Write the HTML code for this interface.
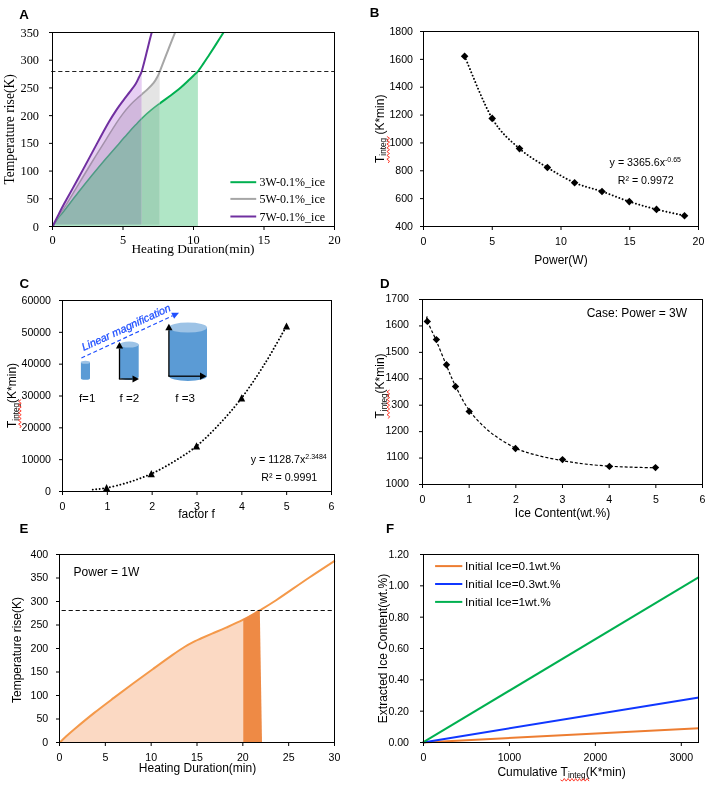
<!DOCTYPE html>
<html lang="en">
<head>
<meta charset="utf-8">
<title>Figure</title>
<style>
html,body{margin:0;padding:0;background:#fff;}
body{width:714px;height:786px;overflow:hidden;}
svg{display:block;}

</style>
</head>
<body>
<svg width="714" height="786" viewBox="0 0 714 786">
<rect x="0" y="0" width="714" height="786" fill="#fff"/>
<text x="19.20" y="19.00" text-anchor="start" font-family='"Liberation Sans", Arial, sans-serif' font-size="13.3" font-weight="bold">A</text>
<defs>
<clipPath id="cA1"><rect x="0" y="0" width="141.7" height="300"/></clipPath>
<clipPath id="cA2"><rect x="141.7" y="0" width="18.1" height="300"/></clipPath>
<clipPath id="cA23"><rect x="141.7" y="0" width="200" height="300"/></clipPath>
<clipPath id="cA3"><rect x="159.8" y="0" width="100" height="300"/></clipPath>
<clipPath id="cAf"><rect x="52.50" y="32.50" width="282.00" height="194.00"/></clipPath>
</defs>
<path d="M52.50,226.50 C53.42,224.68 56.08,219.35 58.00,215.60 C59.92,211.85 60.67,210.13 64.00,204.00 C67.33,197.87 73.33,187.32 78.00,178.80 C82.67,170.28 88.33,159.70 92.00,152.90 C95.67,146.10 97.17,143.18 100.00,138.00 C102.83,132.82 106.33,126.37 109.00,121.80 C111.67,117.23 113.67,114.10 116.00,110.60 C118.33,107.10 120.67,103.95 123.00,100.80 C125.33,97.65 127.90,94.50 130.00,91.70 C132.10,88.90 134.08,86.45 135.60,84.00 C137.12,81.55 138.08,79.10 139.10,77.00 C140.12,74.90 141.27,72.33 141.70,71.40 L141.70,226.50 L52.50,226.50 Z" fill="#e7cff3"/>
<path d="M52.50,226.50 C53.42,224.88 56.08,219.85 58.00,216.80 C59.92,213.75 60.67,213.48 64.00,208.20 C67.33,202.92 73.33,192.80 78.00,185.10 C82.67,177.40 87.33,169.58 92.00,162.00 C96.67,154.42 102.00,146.00 106.00,139.60 C110.00,133.20 113.17,127.93 116.00,123.60 C118.83,119.27 120.67,116.67 123.00,113.60 C125.33,110.53 127.67,107.72 130.00,105.20 C132.33,102.68 135.02,100.32 137.00,98.50 C138.98,96.68 140.03,95.95 141.90,94.30 C143.77,92.65 146.22,90.55 148.20,88.60 C150.18,86.65 152.28,84.53 153.80,82.60 C155.32,80.67 156.30,78.87 157.30,77.00 C158.30,75.13 159.38,72.33 159.80,71.40 L159.80,226.50 L52.50,226.50 Z" fill="#d1b8dd" clip-path="url(#cA1)"/>
<path d="M52.50,226.50 C53.42,224.88 56.08,219.85 58.00,216.80 C59.92,213.75 60.67,213.48 64.00,208.20 C67.33,202.92 73.33,192.80 78.00,185.10 C82.67,177.40 87.33,169.58 92.00,162.00 C96.67,154.42 102.00,146.00 106.00,139.60 C110.00,133.20 113.17,127.93 116.00,123.60 C118.83,119.27 120.67,116.67 123.00,113.60 C125.33,110.53 127.67,107.72 130.00,105.20 C132.33,102.68 135.02,100.32 137.00,98.50 C138.98,96.68 140.03,95.95 141.90,94.30 C143.77,92.65 146.22,90.55 148.20,88.60 C150.18,86.65 152.28,84.53 153.80,82.60 C155.32,80.67 156.30,78.87 157.30,77.00 C158.30,75.13 159.38,72.33 159.80,71.40 L159.80,226.50 L52.50,226.50 Z" fill="#e4e4e4" clip-path="url(#cA2)"/>
<path d="M52.50,226.50 C53.42,225.13 56.08,220.88 58.00,218.30 C59.92,215.72 60.67,215.25 64.00,211.00 C67.33,206.75 73.33,198.75 78.00,192.80 C82.67,186.85 87.33,181.02 92.00,175.30 C96.67,169.58 101.33,163.98 106.00,158.50 C110.67,153.02 116.00,147.00 120.00,142.40 C124.00,137.80 127.17,134.07 130.00,130.90 C132.83,127.73 135.02,125.50 137.00,123.40 C138.98,121.30 139.57,120.50 141.90,118.30 C144.23,116.10 148.02,112.68 151.00,110.20 C153.98,107.72 156.47,105.90 159.80,103.40 C163.13,100.90 167.50,97.85 171.00,95.20 C174.50,92.55 177.77,90.07 180.80,87.50 C183.83,84.93 186.87,81.98 189.20,79.80 C191.53,77.62 193.35,75.80 194.80,74.40 C196.25,73.00 197.38,71.90 197.90,71.40 L197.90,226.50 L52.50,226.50 Z" fill="#92b6b0" clip-path="url(#cA1)"/>
<path d="M52.50,226.50 C53.42,225.13 56.08,220.88 58.00,218.30 C59.92,215.72 60.67,215.25 64.00,211.00 C67.33,206.75 73.33,198.75 78.00,192.80 C82.67,186.85 87.33,181.02 92.00,175.30 C96.67,169.58 101.33,163.98 106.00,158.50 C110.67,153.02 116.00,147.00 120.00,142.40 C124.00,137.80 127.17,134.07 130.00,130.90 C132.83,127.73 135.02,125.50 137.00,123.40 C138.98,121.30 139.57,120.50 141.90,118.30 C144.23,116.10 148.02,112.68 151.00,110.20 C153.98,107.72 156.47,105.90 159.80,103.40 C163.13,100.90 167.50,97.85 171.00,95.20 C174.50,92.55 177.77,90.07 180.80,87.50 C183.83,84.93 186.87,81.98 189.20,79.80 C191.53,77.62 193.35,75.80 194.80,74.40 C196.25,73.00 197.38,71.90 197.90,71.40 L197.90,226.50 L52.50,226.50 Z" fill="#9fd2b6" clip-path="url(#cA2)"/>
<path d="M52.50,226.50 C53.42,225.13 56.08,220.88 58.00,218.30 C59.92,215.72 60.67,215.25 64.00,211.00 C67.33,206.75 73.33,198.75 78.00,192.80 C82.67,186.85 87.33,181.02 92.00,175.30 C96.67,169.58 101.33,163.98 106.00,158.50 C110.67,153.02 116.00,147.00 120.00,142.40 C124.00,137.80 127.17,134.07 130.00,130.90 C132.83,127.73 135.02,125.50 137.00,123.40 C138.98,121.30 139.57,120.50 141.90,118.30 C144.23,116.10 148.02,112.68 151.00,110.20 C153.98,107.72 156.47,105.90 159.80,103.40 C163.13,100.90 167.50,97.85 171.00,95.20 C174.50,92.55 177.77,90.07 180.80,87.50 C183.83,84.93 186.87,81.98 189.20,79.80 C191.53,77.62 193.35,75.80 194.80,74.40 C196.25,73.00 197.38,71.90 197.90,71.40 L197.90,226.50 L52.50,226.50 Z" fill="#b0e6c6" clip-path="url(#cA3)"/>
<rect x="54.5" y="224.6" width="105.4" height="1.9" fill="#b0e6c6"/>
<g clip-path="url(#cAf)">
<path d="M52.50,226.50 C53.42,225.13 56.08,220.88 58.00,218.30 C59.92,215.72 60.67,215.25 64.00,211.00 C67.33,206.75 73.33,198.75 78.00,192.80 C82.67,186.85 87.33,181.02 92.00,175.30 C96.67,169.58 101.33,163.98 106.00,158.50 C110.67,153.02 116.00,147.00 120.00,142.40 C124.00,137.80 127.17,134.07 130.00,130.90 C132.83,127.73 135.02,125.50 137.00,123.40 C138.98,121.30 139.57,120.50 141.90,118.30 C144.23,116.10 148.02,112.68 151.00,110.20 C153.98,107.72 156.47,105.90 159.80,103.40 C163.13,100.90 167.50,97.85 171.00,95.20 C174.50,92.55 177.77,90.07 180.80,87.50 C183.83,84.93 186.87,81.98 189.20,79.80 C191.53,77.62 193.35,75.80 194.80,74.40 C196.25,73.00 196.50,73.15 197.90,71.40 C199.30,69.65 201.38,66.55 203.20,63.90 C205.02,61.25 206.93,58.33 208.80,55.50 C210.67,52.67 212.53,49.82 214.40,46.90 C216.27,43.98 218.48,40.40 220.00,38.00 C221.52,35.60 222.92,33.42 223.50,32.50 " fill="none" stroke="#00b050" stroke-width="2" clip-path="url(#cA3)"/>
<path d="M52.50,226.50 C53.42,225.13 56.08,220.88 58.00,218.30 C59.92,215.72 60.67,215.25 64.00,211.00 C67.33,206.75 73.33,198.75 78.00,192.80 C82.67,186.85 87.33,181.02 92.00,175.30 C96.67,169.58 101.33,163.98 106.00,158.50 C110.67,153.02 116.00,147.00 120.00,142.40 C124.00,137.80 127.17,134.07 130.00,130.90 C132.83,127.73 135.02,125.50 137.00,123.40 C138.98,121.30 139.57,120.50 141.90,118.30 C144.23,116.10 148.02,112.68 151.00,110.20 C153.98,107.72 156.47,105.90 159.80,103.40 C163.13,100.90 167.50,97.85 171.00,95.20 C174.50,92.55 177.77,90.07 180.80,87.50 C183.83,84.93 186.87,81.98 189.20,79.80 C191.53,77.62 193.35,75.80 194.80,74.40 C196.25,73.00 196.50,73.15 197.90,71.40 C199.30,69.65 201.38,66.55 203.20,63.90 C205.02,61.25 206.93,58.33 208.80,55.50 C210.67,52.67 212.53,49.82 214.40,46.90 C216.27,43.98 218.48,40.40 220.00,38.00 C221.52,35.60 222.92,33.42 223.50,32.50 " fill="none" stroke="#3fae78" stroke-width="1.6" clip-path="url(#cA2)"/>
<path d="M52.50,226.50 C53.42,225.13 56.08,220.88 58.00,218.30 C59.92,215.72 60.67,215.25 64.00,211.00 C67.33,206.75 73.33,198.75 78.00,192.80 C82.67,186.85 87.33,181.02 92.00,175.30 C96.67,169.58 101.33,163.98 106.00,158.50 C110.67,153.02 116.00,147.00 120.00,142.40 C124.00,137.80 127.17,134.07 130.00,130.90 C132.83,127.73 135.02,125.50 137.00,123.40 C138.98,121.30 139.57,120.50 141.90,118.30 C144.23,116.10 148.02,112.68 151.00,110.20 C153.98,107.72 156.47,105.90 159.80,103.40 C163.13,100.90 167.50,97.85 171.00,95.20 C174.50,92.55 177.77,90.07 180.80,87.50 C183.83,84.93 186.87,81.98 189.20,79.80 C191.53,77.62 193.35,75.80 194.80,74.40 C196.25,73.00 196.50,73.15 197.90,71.40 C199.30,69.65 201.38,66.55 203.20,63.90 C205.02,61.25 206.93,58.33 208.80,55.50 C210.67,52.67 212.53,49.82 214.40,46.90 C216.27,43.98 218.48,40.40 220.00,38.00 C221.52,35.60 222.92,33.42 223.50,32.50 " fill="none" stroke="#4f9b85" stroke-width="1.5" clip-path="url(#cA1)"/>
<path d="M52.50,226.50 C53.42,224.88 56.08,219.85 58.00,216.80 C59.92,213.75 60.67,213.48 64.00,208.20 C67.33,202.92 73.33,192.80 78.00,185.10 C82.67,177.40 87.33,169.58 92.00,162.00 C96.67,154.42 102.00,146.00 106.00,139.60 C110.00,133.20 113.17,127.93 116.00,123.60 C118.83,119.27 120.67,116.67 123.00,113.60 C125.33,110.53 127.67,107.72 130.00,105.20 C132.33,102.68 135.02,100.32 137.00,98.50 C138.98,96.68 140.03,95.95 141.90,94.30 C143.77,92.65 146.22,90.55 148.20,88.60 C150.18,86.65 152.28,84.53 153.80,82.60 C155.32,80.67 156.30,78.87 157.30,77.00 C158.30,75.13 158.75,73.97 159.80,71.40 C160.85,68.83 162.27,65.03 163.60,61.60 C164.93,58.17 166.40,54.37 167.80,50.80 C169.20,47.23 170.78,43.25 172.00,40.20 C173.22,37.15 174.58,33.78 175.10,32.50 " fill="none" stroke="#a6a6a6" stroke-width="2" clip-path="url(#cA23)"/>
<path d="M52.50,226.50 C53.42,224.88 56.08,219.85 58.00,216.80 C59.92,213.75 60.67,213.48 64.00,208.20 C67.33,202.92 73.33,192.80 78.00,185.10 C82.67,177.40 87.33,169.58 92.00,162.00 C96.67,154.42 102.00,146.00 106.00,139.60 C110.00,133.20 113.17,127.93 116.00,123.60 C118.83,119.27 120.67,116.67 123.00,113.60 C125.33,110.53 127.67,107.72 130.00,105.20 C132.33,102.68 135.02,100.32 137.00,98.50 C138.98,96.68 140.03,95.95 141.90,94.30 C143.77,92.65 146.22,90.55 148.20,88.60 C150.18,86.65 152.28,84.53 153.80,82.60 C155.32,80.67 156.30,78.87 157.30,77.00 C158.30,75.13 158.75,73.97 159.80,71.40 C160.85,68.83 162.27,65.03 163.60,61.60 C164.93,58.17 166.40,54.37 167.80,50.80 C169.20,47.23 170.78,43.25 172.00,40.20 C173.22,37.15 174.58,33.78 175.10,32.50 " fill="none" stroke="#a391ab" stroke-width="1.5" clip-path="url(#cA1)"/>
<path d="M52.50,226.50 C53.42,224.68 56.08,219.35 58.00,215.60 C59.92,211.85 60.67,210.13 64.00,204.00 C67.33,197.87 73.33,187.32 78.00,178.80 C82.67,170.28 88.33,159.70 92.00,152.90 C95.67,146.10 97.17,143.18 100.00,138.00 C102.83,132.82 106.33,126.37 109.00,121.80 C111.67,117.23 113.67,114.10 116.00,110.60 C118.33,107.10 120.67,103.95 123.00,100.80 C125.33,97.65 127.90,94.50 130.00,91.70 C132.10,88.90 134.08,86.45 135.60,84.00 C137.12,81.55 138.08,79.10 139.10,77.00 C140.12,74.90 140.88,73.73 141.70,71.40 C142.52,69.07 143.15,66.27 144.00,63.00 C144.85,59.73 145.87,55.53 146.80,51.80 C147.73,48.07 148.78,43.82 149.60,40.60 C150.42,37.38 151.35,33.85 151.70,32.50 " fill="none" stroke="#7030a0" stroke-width="2"/>
</g>
<line x1="51.2" y1="71.5" x2="334.5" y2="71.5" stroke="#222" stroke-width="1.1" stroke-dasharray="4.2 2.8"/>
<rect x="52.50" y="32.50" width="282.00" height="194.00" fill="none" stroke="#000" stroke-width="1"/>
<line x1="49.00" y1="226.50" x2="52.50" y2="226.50" stroke="#000" stroke-width="1"/>
<text x="39.00" y="230.60" text-anchor="end" font-family='"Liberation Serif", "Times New Roman", serif' font-size="12.3">0</text>
<line x1="49.00" y1="198.79" x2="52.50" y2="198.79" stroke="#000" stroke-width="1"/>
<text x="39.00" y="202.89" text-anchor="end" font-family='"Liberation Serif", "Times New Roman", serif' font-size="12.3">50</text>
<line x1="49.00" y1="171.07" x2="52.50" y2="171.07" stroke="#000" stroke-width="1"/>
<text x="39.00" y="175.17" text-anchor="end" font-family='"Liberation Serif", "Times New Roman", serif' font-size="12.3">100</text>
<line x1="49.00" y1="143.36" x2="52.50" y2="143.36" stroke="#000" stroke-width="1"/>
<text x="39.00" y="147.46" text-anchor="end" font-family='"Liberation Serif", "Times New Roman", serif' font-size="12.3">150</text>
<line x1="49.00" y1="115.64" x2="52.50" y2="115.64" stroke="#000" stroke-width="1"/>
<text x="39.00" y="119.74" text-anchor="end" font-family='"Liberation Serif", "Times New Roman", serif' font-size="12.3">200</text>
<line x1="49.00" y1="87.93" x2="52.50" y2="87.93" stroke="#000" stroke-width="1"/>
<text x="39.00" y="92.03" text-anchor="end" font-family='"Liberation Serif", "Times New Roman", serif' font-size="12.3">250</text>
<line x1="49.00" y1="60.21" x2="52.50" y2="60.21" stroke="#000" stroke-width="1"/>
<text x="39.00" y="64.31" text-anchor="end" font-family='"Liberation Serif", "Times New Roman", serif' font-size="12.3">300</text>
<line x1="49.00" y1="32.50" x2="52.50" y2="32.50" stroke="#000" stroke-width="1"/>
<text x="39.00" y="36.60" text-anchor="end" font-family='"Liberation Serif", "Times New Roman", serif' font-size="12.3">350</text>
<line x1="52.50" y1="226.50" x2="52.50" y2="230.00" stroke="#000" stroke-width="1"/>
<text x="52.50" y="244.20" text-anchor="middle" font-family='"Liberation Serif", "Times New Roman", serif' font-size="12.3">0</text>
<line x1="123.00" y1="226.50" x2="123.00" y2="230.00" stroke="#000" stroke-width="1"/>
<text x="123.00" y="244.20" text-anchor="middle" font-family='"Liberation Serif", "Times New Roman", serif' font-size="12.3">5</text>
<line x1="193.50" y1="226.50" x2="193.50" y2="230.00" stroke="#000" stroke-width="1"/>
<text x="193.50" y="244.20" text-anchor="middle" font-family='"Liberation Serif", "Times New Roman", serif' font-size="12.3">10</text>
<line x1="264.00" y1="226.50" x2="264.00" y2="230.00" stroke="#000" stroke-width="1"/>
<text x="264.00" y="244.20" text-anchor="middle" font-family='"Liberation Serif", "Times New Roman", serif' font-size="12.3">15</text>
<line x1="334.50" y1="226.50" x2="334.50" y2="230.00" stroke="#000" stroke-width="1"/>
<text x="334.50" y="244.20" text-anchor="middle" font-family='"Liberation Serif", "Times New Roman", serif' font-size="12.3">20</text>
<text x="193.00" y="253.40" text-anchor="middle" font-family='"Liberation Serif", "Times New Roman", serif' font-size="13.4" >Heating Duration(min)</text>
<text transform="translate(14.30,129.40) rotate(-90)" text-anchor="middle" font-family='"Liberation Serif", "Times New Roman", serif' font-size="13.6" >Temperature rise(K)</text>
<line x1="230.4" y1="182.20" x2="256.2" y2="182.20" stroke="#00b050" stroke-width="2"/>
<text x="259.40" y="186.20" text-anchor="start" font-family='"Liberation Serif", "Times New Roman", serif' font-size="12" >3W-0.1%_ice</text>
<line x1="230.4" y1="198.90" x2="256.2" y2="198.90" stroke="#a6a6a6" stroke-width="2"/>
<text x="259.40" y="202.90" text-anchor="start" font-family='"Liberation Serif", "Times New Roman", serif' font-size="12" >5W-0.1%_ice</text>
<line x1="230.4" y1="216.50" x2="256.2" y2="216.50" stroke="#7030a0" stroke-width="2"/>
<text x="259.40" y="220.50" text-anchor="start" font-family='"Liberation Serif", "Times New Roman", serif' font-size="12" >7W-0.1%_ice</text>
<text x="369.80" y="17.40" text-anchor="start" font-family='"Liberation Sans", Arial, sans-serif' font-size="13.3" font-weight="bold">B</text>
<rect x="423.50" y="31.50" width="275.00" height="195.00" fill="none" stroke="#000" stroke-width="1"/>
<line x1="420.00" y1="226.50" x2="423.50" y2="226.50" stroke="#000" stroke-width="1"/>
<text x="413.00" y="229.70" text-anchor="end" font-family='"Liberation Sans", Arial, sans-serif' font-size="10.6">400</text>
<line x1="420.00" y1="198.64" x2="423.50" y2="198.64" stroke="#000" stroke-width="1"/>
<text x="413.00" y="201.84" text-anchor="end" font-family='"Liberation Sans", Arial, sans-serif' font-size="10.6">600</text>
<line x1="420.00" y1="170.79" x2="423.50" y2="170.79" stroke="#000" stroke-width="1"/>
<text x="413.00" y="173.99" text-anchor="end" font-family='"Liberation Sans", Arial, sans-serif' font-size="10.6">800</text>
<line x1="420.00" y1="142.93" x2="423.50" y2="142.93" stroke="#000" stroke-width="1"/>
<text x="413.00" y="146.13" text-anchor="end" font-family='"Liberation Sans", Arial, sans-serif' font-size="10.6">1000</text>
<line x1="420.00" y1="115.07" x2="423.50" y2="115.07" stroke="#000" stroke-width="1"/>
<text x="413.00" y="118.27" text-anchor="end" font-family='"Liberation Sans", Arial, sans-serif' font-size="10.6">1200</text>
<line x1="420.00" y1="87.21" x2="423.50" y2="87.21" stroke="#000" stroke-width="1"/>
<text x="413.00" y="90.41" text-anchor="end" font-family='"Liberation Sans", Arial, sans-serif' font-size="10.6">1400</text>
<line x1="420.00" y1="59.36" x2="423.50" y2="59.36" stroke="#000" stroke-width="1"/>
<text x="413.00" y="62.56" text-anchor="end" font-family='"Liberation Sans", Arial, sans-serif' font-size="10.6">1600</text>
<line x1="420.00" y1="31.50" x2="423.50" y2="31.50" stroke="#000" stroke-width="1"/>
<text x="413.00" y="34.70" text-anchor="end" font-family='"Liberation Sans", Arial, sans-serif' font-size="10.6">1800</text>
<line x1="423.50" y1="226.50" x2="423.50" y2="230.00" stroke="#000" stroke-width="1"/>
<text x="423.50" y="245.00" text-anchor="middle" font-family='"Liberation Sans", Arial, sans-serif' font-size="10.6">0</text>
<line x1="492.25" y1="226.50" x2="492.25" y2="230.00" stroke="#000" stroke-width="1"/>
<text x="492.25" y="245.00" text-anchor="middle" font-family='"Liberation Sans", Arial, sans-serif' font-size="10.6">5</text>
<line x1="561.00" y1="226.50" x2="561.00" y2="230.00" stroke="#000" stroke-width="1"/>
<text x="561.00" y="245.00" text-anchor="middle" font-family='"Liberation Sans", Arial, sans-serif' font-size="10.6">10</text>
<line x1="629.75" y1="226.50" x2="629.75" y2="230.00" stroke="#000" stroke-width="1"/>
<text x="629.75" y="245.00" text-anchor="middle" font-family='"Liberation Sans", Arial, sans-serif' font-size="10.6">15</text>
<line x1="698.50" y1="226.50" x2="698.50" y2="230.00" stroke="#000" stroke-width="1"/>
<text x="698.50" y="245.00" text-anchor="middle" font-family='"Liberation Sans", Arial, sans-serif' font-size="10.6">20</text>
<text x="561.00" y="263.90" text-anchor="middle" font-family='"Liberation Sans", Arial, sans-serif' font-size="12" >Power(W)</text>
<path d="M464.60,56.20 C469.20,66.57 483.05,103.00 492.20,118.40 C501.35,133.80 510.30,140.42 519.50,148.60 C528.70,156.78 538.22,161.82 547.40,167.50 C556.58,173.18 565.50,178.70 574.60,182.70 C583.70,186.70 592.88,188.35 602.00,191.50 C611.12,194.65 620.22,198.62 629.30,201.60 C638.38,204.58 647.30,207.05 656.50,209.40 C665.70,211.75 679.83,214.65 684.50,215.70 " fill="none" stroke="#000" stroke-width="1.9" stroke-dasharray="0.01 3.5" stroke-linecap="round"/>
<path d="M464.60,52.40 L468.40,56.20 L464.60,60.00 L460.80,56.20 Z" fill="#000"/>
<path d="M492.20,114.60 L496.00,118.40 L492.20,122.20 L488.40,118.40 Z" fill="#000"/>
<path d="M519.50,144.80 L523.30,148.60 L519.50,152.40 L515.70,148.60 Z" fill="#000"/>
<path d="M547.40,163.70 L551.20,167.50 L547.40,171.30 L543.60,167.50 Z" fill="#000"/>
<path d="M574.60,178.90 L578.40,182.70 L574.60,186.50 L570.80,182.70 Z" fill="#000"/>
<path d="M602.00,187.70 L605.80,191.50 L602.00,195.30 L598.20,191.50 Z" fill="#000"/>
<path d="M629.30,197.80 L633.10,201.60 L629.30,205.40 L625.50,201.60 Z" fill="#000"/>
<path d="M656.50,205.60 L660.30,209.40 L656.50,213.20 L652.70,209.40 Z" fill="#000"/>
<path d="M684.50,211.90 L688.30,215.70 L684.50,219.50 L680.70,215.70 Z" fill="#000"/>
<text x="609.6" y="166.0" font-family='"Liberation Sans", Arial, sans-serif' font-size="10.67">y = 3365.6x<tspan font-size="7.0" dy="-3.6">-0.65</tspan></text>
<text x="617.70" y="184.20" text-anchor="start" font-family='"Liberation Sans", Arial, sans-serif' font-size="10.67" >R² = 0.9972</text>
<text transform="translate(383.8,163.0) rotate(-90)" font-family='"Liberation Sans", Arial, sans-serif' font-size="12">T<tspan font-size="8.2" dy="2.6">integ</tspan><tspan dy="-2.6"> (K*min)</tspan></text>
<path d="M388.20,163.00 L389.50,161.10 L386.90,159.20 L389.50,157.30 L386.90,155.40 L389.50,153.50 L386.90,151.60 L389.50,149.70 L386.90,147.80 L389.50,145.90 L386.90,144.00 L389.50,142.10 L386.90,140.20 L389.50,138.30 L386.90,136.40 " fill="none" stroke="#ff2a1a" stroke-width="0.9"/>
<text x="19.40" y="288.20" text-anchor="start" font-family='"Liberation Sans", Arial, sans-serif' font-size="13.3" font-weight="bold">C</text>
<rect x="62.50" y="300.50" width="269.00" height="191.00" fill="none" stroke="#000" stroke-width="1"/>
<line x1="59.00" y1="491.50" x2="62.50" y2="491.50" stroke="#000" stroke-width="1"/>
<text x="51.00" y="494.70" text-anchor="end" font-family='"Liberation Sans", Arial, sans-serif' font-size="10.6">0</text>
<line x1="59.00" y1="459.67" x2="62.50" y2="459.67" stroke="#000" stroke-width="1"/>
<text x="51.00" y="462.87" text-anchor="end" font-family='"Liberation Sans", Arial, sans-serif' font-size="10.6">10000</text>
<line x1="59.00" y1="427.83" x2="62.50" y2="427.83" stroke="#000" stroke-width="1"/>
<text x="51.00" y="431.03" text-anchor="end" font-family='"Liberation Sans", Arial, sans-serif' font-size="10.6">20000</text>
<line x1="59.00" y1="396.00" x2="62.50" y2="396.00" stroke="#000" stroke-width="1"/>
<text x="51.00" y="399.20" text-anchor="end" font-family='"Liberation Sans", Arial, sans-serif' font-size="10.6">30000</text>
<line x1="59.00" y1="364.17" x2="62.50" y2="364.17" stroke="#000" stroke-width="1"/>
<text x="51.00" y="367.37" text-anchor="end" font-family='"Liberation Sans", Arial, sans-serif' font-size="10.6">40000</text>
<line x1="59.00" y1="332.33" x2="62.50" y2="332.33" stroke="#000" stroke-width="1"/>
<text x="51.00" y="335.53" text-anchor="end" font-family='"Liberation Sans", Arial, sans-serif' font-size="10.6">50000</text>
<line x1="59.00" y1="300.50" x2="62.50" y2="300.50" stroke="#000" stroke-width="1"/>
<text x="51.00" y="303.70" text-anchor="end" font-family='"Liberation Sans", Arial, sans-serif' font-size="10.6">60000</text>
<line x1="62.50" y1="491.50" x2="62.50" y2="495.00" stroke="#000" stroke-width="1"/>
<text x="62.50" y="510.20" text-anchor="middle" font-family='"Liberation Sans", Arial, sans-serif' font-size="10.6">0</text>
<line x1="107.33" y1="491.50" x2="107.33" y2="495.00" stroke="#000" stroke-width="1"/>
<text x="107.33" y="510.20" text-anchor="middle" font-family='"Liberation Sans", Arial, sans-serif' font-size="10.6">1</text>
<line x1="152.17" y1="491.50" x2="152.17" y2="495.00" stroke="#000" stroke-width="1"/>
<text x="152.17" y="510.20" text-anchor="middle" font-family='"Liberation Sans", Arial, sans-serif' font-size="10.6">2</text>
<line x1="197.00" y1="491.50" x2="197.00" y2="495.00" stroke="#000" stroke-width="1"/>
<text x="197.00" y="510.20" text-anchor="middle" font-family='"Liberation Sans", Arial, sans-serif' font-size="10.6">3</text>
<line x1="241.83" y1="491.50" x2="241.83" y2="495.00" stroke="#000" stroke-width="1"/>
<text x="241.83" y="510.20" text-anchor="middle" font-family='"Liberation Sans", Arial, sans-serif' font-size="10.6">4</text>
<line x1="286.67" y1="491.50" x2="286.67" y2="495.00" stroke="#000" stroke-width="1"/>
<text x="286.67" y="510.20" text-anchor="middle" font-family='"Liberation Sans", Arial, sans-serif' font-size="10.6">5</text>
<line x1="331.50" y1="491.50" x2="331.50" y2="495.00" stroke="#000" stroke-width="1"/>
<text x="331.50" y="510.20" text-anchor="middle" font-family='"Liberation Sans", Arial, sans-serif' font-size="10.6">6</text>
<text x="196.60" y="518.30" text-anchor="middle" font-family='"Liberation Sans", Arial, sans-serif' font-size="12" >factor f</text>
<path d="M92.80,489.60 C95.10,489.32 100.73,489.08 106.60,487.90 C112.47,486.72 120.55,484.85 128.00,482.50 C135.45,480.15 143.63,477.30 151.30,473.80 C158.97,470.30 166.47,466.12 174.00,461.50 C181.53,456.88 189.00,452.27 196.50,446.10 C204.00,439.93 211.48,432.52 219.00,424.50 C226.52,416.48 234.10,407.92 241.60,398.00 C249.10,388.08 256.52,376.97 264.00,365.00 C271.48,353.03 282.75,332.67 286.50,326.20 " fill="none" stroke="#000" stroke-width="1.9" stroke-dasharray="0.01 3.5" stroke-linecap="round"/>
<path d="M106.60,484.10 L110.20,491.30 L103.00,491.30 Z" fill="#000"/>
<path d="M151.30,470.00 L154.90,477.20 L147.70,477.20 Z" fill="#000"/>
<path d="M196.50,442.30 L200.10,449.50 L192.90,449.50 Z" fill="#000"/>
<path d="M241.60,394.20 L245.20,401.40 L238.00,401.40 Z" fill="#000"/>
<path d="M286.50,322.40 L290.10,329.60 L282.90,329.60 Z" fill="#000"/>
<text x="250.7" y="463.0" font-family='"Liberation Sans", Arial, sans-serif' font-size="10.67">y = 1128.7x<tspan font-size="7.0" dy="-3.6">2.3484</tspan></text>
<text x="261.30" y="480.70" text-anchor="start" font-family='"Liberation Sans", Arial, sans-serif' font-size="10.67" >R² = 0.9991</text>
<text transform="translate(16.0,428.0) rotate(-90)" font-family='"Liberation Sans", Arial, sans-serif' font-size="12">T<tspan font-size="8.2" dy="2.6">integ</tspan><tspan dy="-2.6">(K*min)</tspan></text>
<path d="M19.90,428.00 L21.20,426.10 L18.60,424.20 L21.20,422.30 L18.60,420.40 L21.20,418.50 L18.60,416.60 L21.20,414.70 L18.60,412.80 L21.20,410.90 L18.60,409.00 L21.20,407.10 L18.60,405.20 L21.20,403.30 L18.60,401.40 L21.20,399.50 " fill="none" stroke="#ff2a1a" stroke-width="0.9"/>
<path d="M80.90,362.30 L80.90,378.30 A4.55,1.50 0 0 0 90.00,378.30 L90.00,362.30 Z" fill="#5b9bd5"/>
<ellipse cx="85.45" cy="362.30" rx="4.55" ry="1.50" fill="#9dc3e6"/>
<path d="M119.50,344.60 L119.50,377.00 A9.60,3.00 0 0 0 138.70,377.00 L138.70,344.60 Z" fill="#5b9bd5"/>
<ellipse cx="129.10" cy="344.60" rx="9.60" ry="3.00" fill="#9dc3e6"/>
<path d="M168.90,327.60 L168.90,376.00 A19.05,5.00 0 0 0 207.00,376.00 L207.00,327.60 Z" fill="#5b9bd5"/>
<ellipse cx="187.95" cy="327.60" rx="19.05" ry="5.00" fill="#9dc3e6"/>
<line x1="119.50" y1="379.00" x2="119.50" y2="348.50" stroke="#000" stroke-width="1.30"/>
<path d="M119.50,342.00 L123.10,348.50 L115.90,348.50 Z" fill="#000"/>
<line x1="118.90" y1="379.00" x2="132.50" y2="379.00" stroke="#000" stroke-width="1.30"/>
<path d="M139.00,379.00 L132.50,382.60 L132.50,375.40 Z" fill="#000"/>
<line x1="168.90" y1="376.20" x2="168.90" y2="330.30" stroke="#000" stroke-width="1.30"/>
<path d="M168.90,323.80 L172.50,330.30 L165.30,330.30 Z" fill="#000"/>
<line x1="168.30" y1="376.20" x2="200.00" y2="376.20" stroke="#000" stroke-width="1.30"/>
<path d="M206.50,376.20 L200.00,379.80 L200.00,372.60 Z" fill="#000"/>
<line x1="81.40" y1="358.00" x2="172.65" y2="315.74" stroke="#1f4fff" stroke-width="1.20" stroke-dasharray="4 2.6"/>
<path d="M179.00,312.80 L174.08,318.83 L171.22,312.66 Z" fill="#1f4fff"/>
<text transform="translate(83.8,351.0) rotate(-24.8)" font-family='"Liberation Sans", Arial, sans-serif' font-size="10.8" font-style="italic" fill="#1f4fff" stroke="#1f4fff" stroke-width="0.25">Linear magnification</text>
<text x="78.90" y="402.40" text-anchor="start" font-family='"Liberation Sans", Arial, sans-serif' font-size="11.6" >f=1</text>
<text x="119.50" y="402.40" text-anchor="start" font-family='"Liberation Sans", Arial, sans-serif' font-size="11.6" >f =2</text>
<text x="175.20" y="402.40" text-anchor="start" font-family='"Liberation Sans", Arial, sans-serif' font-size="11.6" >f =3</text>
<text x="380.00" y="288.00" text-anchor="start" font-family='"Liberation Sans", Arial, sans-serif' font-size="13.3" font-weight="bold">D</text>
<rect x="422.50" y="299.50" width="280.00" height="185.00" fill="none" stroke="#000" stroke-width="1"/>
<line x1="419.00" y1="484.50" x2="422.50" y2="484.50" stroke="#000" stroke-width="1"/>
<text x="409.00" y="486.90" text-anchor="end" font-family='"Liberation Sans", Arial, sans-serif' font-size="10.6">1000</text>
<line x1="419.00" y1="458.07" x2="422.50" y2="458.07" stroke="#000" stroke-width="1"/>
<text x="409.00" y="460.47" text-anchor="end" font-family='"Liberation Sans", Arial, sans-serif' font-size="10.6">1100</text>
<line x1="419.00" y1="431.64" x2="422.50" y2="431.64" stroke="#000" stroke-width="1"/>
<text x="409.00" y="434.04" text-anchor="end" font-family='"Liberation Sans", Arial, sans-serif' font-size="10.6">1200</text>
<line x1="419.00" y1="405.21" x2="422.50" y2="405.21" stroke="#000" stroke-width="1"/>
<text x="409.00" y="407.61" text-anchor="end" font-family='"Liberation Sans", Arial, sans-serif' font-size="10.6">1300</text>
<line x1="419.00" y1="378.79" x2="422.50" y2="378.79" stroke="#000" stroke-width="1"/>
<text x="409.00" y="381.19" text-anchor="end" font-family='"Liberation Sans", Arial, sans-serif' font-size="10.6">1400</text>
<line x1="419.00" y1="352.36" x2="422.50" y2="352.36" stroke="#000" stroke-width="1"/>
<text x="409.00" y="354.76" text-anchor="end" font-family='"Liberation Sans", Arial, sans-serif' font-size="10.6">1500</text>
<line x1="419.00" y1="325.93" x2="422.50" y2="325.93" stroke="#000" stroke-width="1"/>
<text x="409.00" y="328.33" text-anchor="end" font-family='"Liberation Sans", Arial, sans-serif' font-size="10.6">1600</text>
<line x1="419.00" y1="299.50" x2="422.50" y2="299.50" stroke="#000" stroke-width="1"/>
<text x="409.00" y="301.90" text-anchor="end" font-family='"Liberation Sans", Arial, sans-serif' font-size="10.6">1700</text>
<line x1="422.50" y1="484.50" x2="422.50" y2="488.00" stroke="#000" stroke-width="1"/>
<text x="422.50" y="503.00" text-anchor="middle" font-family='"Liberation Sans", Arial, sans-serif' font-size="10.6">0</text>
<line x1="469.17" y1="484.50" x2="469.17" y2="488.00" stroke="#000" stroke-width="1"/>
<text x="469.17" y="503.00" text-anchor="middle" font-family='"Liberation Sans", Arial, sans-serif' font-size="10.6">1</text>
<line x1="515.83" y1="484.50" x2="515.83" y2="488.00" stroke="#000" stroke-width="1"/>
<text x="515.83" y="503.00" text-anchor="middle" font-family='"Liberation Sans", Arial, sans-serif' font-size="10.6">2</text>
<line x1="562.50" y1="484.50" x2="562.50" y2="488.00" stroke="#000" stroke-width="1"/>
<text x="562.50" y="503.00" text-anchor="middle" font-family='"Liberation Sans", Arial, sans-serif' font-size="10.6">3</text>
<line x1="609.17" y1="484.50" x2="609.17" y2="488.00" stroke="#000" stroke-width="1"/>
<text x="609.17" y="503.00" text-anchor="middle" font-family='"Liberation Sans", Arial, sans-serif' font-size="10.6">4</text>
<line x1="655.83" y1="484.50" x2="655.83" y2="488.00" stroke="#000" stroke-width="1"/>
<text x="655.83" y="503.00" text-anchor="middle" font-family='"Liberation Sans", Arial, sans-serif' font-size="10.6">5</text>
<line x1="702.50" y1="484.50" x2="702.50" y2="488.00" stroke="#000" stroke-width="1"/>
<text x="702.50" y="503.00" text-anchor="middle" font-family='"Liberation Sans", Arial, sans-serif' font-size="10.6">6</text>
<text x="562.50" y="517.20" text-anchor="middle" font-family='"Liberation Sans", Arial, sans-serif' font-size="12" >Ice Content(wt.%)</text>
<path d="M427.00,316.40 C427.10,317.27 426.03,317.50 427.60,321.60 C429.17,325.70 433.25,333.68 436.40,341.00 C439.55,348.32 443.32,358.00 446.50,365.50 C449.68,373.00 451.72,378.55 455.50,386.00 C459.28,393.45 463.45,402.53 469.20,410.20 C474.95,417.87 482.28,425.70 490.00,432.00 C497.72,438.30 507.50,444.08 515.50,448.00 C523.50,451.92 530.17,453.40 538.00,455.50 C545.83,457.60 554.67,459.18 562.50,460.60 C570.33,462.02 577.18,463.07 585.00,464.00 C592.82,464.93 601.57,465.67 609.40,466.20 C617.23,466.73 624.32,466.93 632.00,467.20 C639.68,467.47 651.58,467.70 655.50,467.80 " fill="none" stroke="#000" stroke-width="1.2" stroke-dasharray="3 2"/>
<path d="M427.30,317.70 L431.00,321.40 L427.30,325.10 L423.60,321.40 Z" fill="#000"/>
<path d="M436.40,335.90 L440.10,339.60 L436.40,343.30 L432.70,339.60 Z" fill="#000"/>
<path d="M446.50,361.10 L450.20,364.80 L446.50,368.50 L442.80,364.80 Z" fill="#000"/>
<path d="M455.50,382.80 L459.20,386.50 L455.50,390.20 L451.80,386.50 Z" fill="#000"/>
<path d="M469.20,407.70 L472.90,411.40 L469.20,415.10 L465.50,411.40 Z" fill="#000"/>
<path d="M515.50,444.80 L519.20,448.50 L515.50,452.20 L511.80,448.50 Z" fill="#000"/>
<path d="M562.50,455.90 L566.20,459.60 L562.50,463.30 L558.80,459.60 Z" fill="#000"/>
<path d="M609.40,462.70 L613.10,466.40 L609.40,470.10 L605.70,466.40 Z" fill="#000"/>
<path d="M655.50,463.90 L659.20,467.60 L655.50,471.30 L651.80,467.60 Z" fill="#000"/>
<text x="586.70" y="317.30" text-anchor="start" font-family='"Liberation Sans", Arial, sans-serif' font-size="12" >Case: Power = 3W</text>
<rect x="384.5" y="393" width="6" height="24" fill="#fff"/>
<text transform="translate(384.2,418.5) rotate(-90)" font-family='"Liberation Sans", Arial, sans-serif' font-size="12">T<tspan font-size="8.2" dy="2.6">integ</tspan><tspan dy="-2.6">(K*min)</tspan></text>
<path d="M388.30,418.50 L389.60,416.60 L387.00,414.70 L389.60,412.80 L387.00,410.90 L389.60,409.00 L387.00,407.10 L389.60,405.20 L387.00,403.30 L389.60,401.40 L387.00,399.50 L389.60,397.60 L387.00,395.70 L389.60,393.80 L387.00,391.90 L389.60,390.00 " fill="none" stroke="#ff2a1a" stroke-width="0.9"/>
<text x="19.60" y="533.00" text-anchor="start" font-family='"Liberation Sans", Arial, sans-serif' font-size="13.3" font-weight="bold">E</text>
<path d="M59.70,742.60 C60.75,741.60 63.52,738.87 66.00,736.60 C68.48,734.33 69.90,732.95 74.60,729.00 C79.30,725.05 87.67,718.08 94.20,712.90 C100.73,707.72 107.27,702.83 113.80,697.90 C120.33,692.97 126.87,688.12 133.40,683.30 C139.93,678.48 146.47,673.73 153.00,669.00 C159.53,664.27 167.37,658.57 172.60,654.90 C177.83,651.23 180.67,649.28 184.40,647.00 C188.13,644.72 192.27,642.62 195.00,641.20 C197.73,639.78 197.97,639.77 200.80,638.50 C203.63,637.23 207.80,635.40 212.00,633.60 C216.20,631.80 220.80,630.02 226.00,627.70 C231.20,625.38 240.33,621.03 243.20,619.70  L243.2,742.7 L59.5,742.7 Z" fill="#fbd9c3"/>
<path d="M59.70,742.60 C60.75,741.60 63.52,738.87 66.00,736.60 C68.48,734.33 69.90,732.95 74.60,729.00 C79.30,725.05 87.67,718.08 94.20,712.90 C100.73,707.72 107.27,702.83 113.80,697.90 C120.33,692.97 126.87,688.12 133.40,683.30 C139.93,678.48 146.47,673.73 153.00,669.00 C159.53,664.27 167.37,658.57 172.60,654.90 C177.83,651.23 180.67,649.28 184.40,647.00 C188.13,644.72 192.27,642.62 195.00,641.20 C197.73,639.78 197.97,639.77 200.80,638.50 C203.63,637.23 207.80,635.40 212.00,633.60 C216.20,631.80 220.80,630.02 226.00,627.70 C231.20,625.38 237.65,622.55 243.20,619.70 C248.75,616.85 253.75,613.88 259.30,610.60 C264.85,607.32 268.28,605.43 276.50,600.00 C284.72,594.57 298.87,584.55 308.60,578.00 C318.33,571.45 330.52,563.58 334.90,560.70 " fill="none" stroke="#f4994a" stroke-width="2"/>
<path d="M243.2,742.5 L243.2,619.2 L259.8,609.8 L262.0,742.5 Z" fill="#ee8a45"/>
<line x1="61.6" y1="610.5" x2="331.8" y2="610.5" stroke="#111" stroke-width="1.1" stroke-dasharray="4.2 2.8"/>
<rect x="59.50" y="554.50" width="275.00" height="188.00" fill="none" stroke="#000" stroke-width="1"/>
<line x1="56.00" y1="742.50" x2="59.50" y2="742.50" stroke="#000" stroke-width="1"/>
<text x="48.20" y="745.90" text-anchor="end" font-family='"Liberation Sans", Arial, sans-serif' font-size="10.6">0</text>
<line x1="56.00" y1="719.00" x2="59.50" y2="719.00" stroke="#000" stroke-width="1"/>
<text x="48.20" y="722.40" text-anchor="end" font-family='"Liberation Sans", Arial, sans-serif' font-size="10.6">50</text>
<line x1="56.00" y1="695.50" x2="59.50" y2="695.50" stroke="#000" stroke-width="1"/>
<text x="48.20" y="698.90" text-anchor="end" font-family='"Liberation Sans", Arial, sans-serif' font-size="10.6">100</text>
<line x1="56.00" y1="672.00" x2="59.50" y2="672.00" stroke="#000" stroke-width="1"/>
<text x="48.20" y="675.40" text-anchor="end" font-family='"Liberation Sans", Arial, sans-serif' font-size="10.6">150</text>
<line x1="56.00" y1="648.50" x2="59.50" y2="648.50" stroke="#000" stroke-width="1"/>
<text x="48.20" y="651.90" text-anchor="end" font-family='"Liberation Sans", Arial, sans-serif' font-size="10.6">200</text>
<line x1="56.00" y1="625.00" x2="59.50" y2="625.00" stroke="#000" stroke-width="1"/>
<text x="48.20" y="628.40" text-anchor="end" font-family='"Liberation Sans", Arial, sans-serif' font-size="10.6">250</text>
<line x1="56.00" y1="601.50" x2="59.50" y2="601.50" stroke="#000" stroke-width="1"/>
<text x="48.20" y="604.90" text-anchor="end" font-family='"Liberation Sans", Arial, sans-serif' font-size="10.6">300</text>
<line x1="56.00" y1="578.00" x2="59.50" y2="578.00" stroke="#000" stroke-width="1"/>
<text x="48.20" y="581.40" text-anchor="end" font-family='"Liberation Sans", Arial, sans-serif' font-size="10.6">350</text>
<line x1="56.00" y1="554.50" x2="59.50" y2="554.50" stroke="#000" stroke-width="1"/>
<text x="48.20" y="557.90" text-anchor="end" font-family='"Liberation Sans", Arial, sans-serif' font-size="10.6">400</text>
<line x1="59.50" y1="742.50" x2="59.50" y2="746.00" stroke="#000" stroke-width="1"/>
<text x="59.50" y="761.40" text-anchor="middle" font-family='"Liberation Sans", Arial, sans-serif' font-size="10.6">0</text>
<line x1="105.33" y1="742.50" x2="105.33" y2="746.00" stroke="#000" stroke-width="1"/>
<text x="105.33" y="761.40" text-anchor="middle" font-family='"Liberation Sans", Arial, sans-serif' font-size="10.6">5</text>
<line x1="151.17" y1="742.50" x2="151.17" y2="746.00" stroke="#000" stroke-width="1"/>
<text x="151.17" y="761.40" text-anchor="middle" font-family='"Liberation Sans", Arial, sans-serif' font-size="10.6">10</text>
<line x1="197.00" y1="742.50" x2="197.00" y2="746.00" stroke="#000" stroke-width="1"/>
<text x="197.00" y="761.40" text-anchor="middle" font-family='"Liberation Sans", Arial, sans-serif' font-size="10.6">15</text>
<line x1="242.83" y1="742.50" x2="242.83" y2="746.00" stroke="#000" stroke-width="1"/>
<text x="242.83" y="761.40" text-anchor="middle" font-family='"Liberation Sans", Arial, sans-serif' font-size="10.6">20</text>
<line x1="288.67" y1="742.50" x2="288.67" y2="746.00" stroke="#000" stroke-width="1"/>
<text x="288.67" y="761.40" text-anchor="middle" font-family='"Liberation Sans", Arial, sans-serif' font-size="10.6">25</text>
<line x1="334.50" y1="742.50" x2="334.50" y2="746.00" stroke="#000" stroke-width="1"/>
<text x="334.50" y="761.40" text-anchor="middle" font-family='"Liberation Sans", Arial, sans-serif' font-size="10.6">30</text>
<text x="197.50" y="771.90" text-anchor="middle" font-family='"Liberation Sans", Arial, sans-serif' font-size="12" >Heating Duration(min)</text>
<text transform="translate(20.60,650.00) rotate(-90)" text-anchor="middle" font-family='"Liberation Sans", Arial, sans-serif' font-size="12" >Temperature rise(K)</text>
<text x="73.60" y="575.90" text-anchor="start" font-family='"Liberation Sans", Arial, sans-serif' font-size="12" >Power = 1W</text>
<text x="386.00" y="533.00" text-anchor="start" font-family='"Liberation Sans", Arial, sans-serif' font-size="13.3" font-weight="bold">F</text>
<line x1="423" y1="742.4" x2="698.9" y2="728.3" stroke="#ed7d31" stroke-width="2"/>
<line x1="423" y1="742.4" x2="698.9" y2="697.6" stroke="#1037ff" stroke-width="2"/>
<line x1="423" y1="742.4" x2="698.9" y2="577.1" stroke="#00b050" stroke-width="2"/>
<rect x="423.50" y="554.50" width="275.00" height="188.00" fill="none" stroke="#000" stroke-width="1"/>
<line x1="420.00" y1="742.50" x2="423.50" y2="742.50" stroke="#000" stroke-width="1"/>
<text x="409.00" y="745.90" text-anchor="end" font-family='"Liberation Sans", Arial, sans-serif' font-size="10.6">0.00</text>
<line x1="420.00" y1="711.17" x2="423.50" y2="711.17" stroke="#000" stroke-width="1"/>
<text x="409.00" y="714.57" text-anchor="end" font-family='"Liberation Sans", Arial, sans-serif' font-size="10.6">0.20</text>
<line x1="420.00" y1="679.83" x2="423.50" y2="679.83" stroke="#000" stroke-width="1"/>
<text x="409.00" y="683.23" text-anchor="end" font-family='"Liberation Sans", Arial, sans-serif' font-size="10.6">0.40</text>
<line x1="420.00" y1="648.50" x2="423.50" y2="648.50" stroke="#000" stroke-width="1"/>
<text x="409.00" y="651.90" text-anchor="end" font-family='"Liberation Sans", Arial, sans-serif' font-size="10.6">0.60</text>
<line x1="420.00" y1="617.17" x2="423.50" y2="617.17" stroke="#000" stroke-width="1"/>
<text x="409.00" y="620.57" text-anchor="end" font-family='"Liberation Sans", Arial, sans-serif' font-size="10.6">0.80</text>
<line x1="420.00" y1="585.83" x2="423.50" y2="585.83" stroke="#000" stroke-width="1"/>
<text x="409.00" y="589.23" text-anchor="end" font-family='"Liberation Sans", Arial, sans-serif' font-size="10.6">1.00</text>
<line x1="420.00" y1="554.50" x2="423.50" y2="554.50" stroke="#000" stroke-width="1"/>
<text x="409.00" y="557.90" text-anchor="end" font-family='"Liberation Sans", Arial, sans-serif' font-size="10.6">1.20</text>
<line x1="423.50" y1="742.50" x2="423.50" y2="746.00" stroke="#000" stroke-width="1"/>
<text x="423.50" y="760.90" text-anchor="middle" font-family='"Liberation Sans", Arial, sans-serif' font-size="10.6">0</text>
<line x1="509.44" y1="742.50" x2="509.44" y2="746.00" stroke="#000" stroke-width="1"/>
<text x="509.44" y="760.90" text-anchor="middle" font-family='"Liberation Sans", Arial, sans-serif' font-size="10.6">1000</text>
<line x1="595.38" y1="742.50" x2="595.38" y2="746.00" stroke="#000" stroke-width="1"/>
<text x="595.38" y="760.90" text-anchor="middle" font-family='"Liberation Sans", Arial, sans-serif' font-size="10.6">2000</text>
<line x1="681.31" y1="742.50" x2="681.31" y2="746.00" stroke="#000" stroke-width="1"/>
<text x="681.31" y="760.90" text-anchor="middle" font-family='"Liberation Sans", Arial, sans-serif' font-size="10.6">3000</text>
<text x="497.4" y="775.6" font-family='"Liberation Sans", Arial, sans-serif' font-size="12">Cumulative T<tspan font-size="8.2" dy="2.6">integ</tspan><tspan dy="-2.6">(K*min)</tspan></text>
<path d="M560.50,779.80 L562.40,781.10 L564.30,778.50 L566.20,781.10 L568.10,778.50 L570.00,781.10 L571.90,778.50 L573.80,781.10 L575.70,778.50 L577.60,781.10 L579.50,778.50 L581.40,781.10 L583.30,778.50 L585.20,781.10 L587.10,778.50 L589.00,781.10 " fill="none" stroke="#ff2a1a" stroke-width="0.9"/>
<text transform="translate(386.60,648.50) rotate(-90)" text-anchor="middle" font-family='"Liberation Sans", Arial, sans-serif' font-size="12" >Extracted Ice Content(wt.%)</text>
<line x1="435.1" y1="566.10" x2="462.3" y2="566.10" stroke="#ed7d31" stroke-width="2"/>
<text x="465.10" y="570.30" text-anchor="start" font-family='"Liberation Sans", Arial, sans-serif' font-size="11.8" >Initial Ice=0.1wt.%</text>
<line x1="435.1" y1="584.00" x2="462.3" y2="584.00" stroke="#1037ff" stroke-width="2"/>
<text x="465.10" y="588.20" text-anchor="start" font-family='"Liberation Sans", Arial, sans-serif' font-size="11.8" >Initial Ice=0.3wt.%</text>
<line x1="435.1" y1="601.90" x2="462.3" y2="601.90" stroke="#00b050" stroke-width="2"/>
<text x="465.10" y="606.10" text-anchor="start" font-family='"Liberation Sans", Arial, sans-serif' font-size="11.8" >Initial Ice=1wt.%</text>
</svg>
</body>
</html>
